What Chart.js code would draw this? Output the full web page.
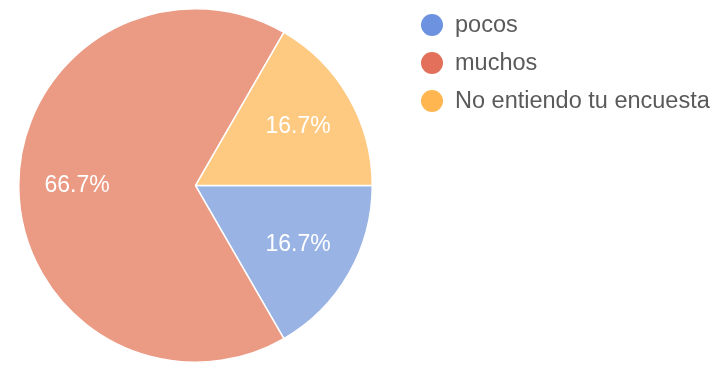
<!DOCTYPE html>
<html>
<head>
<meta charset="utf-8">
<script src="https://cdn.jsdelivr.net/npm/chart.js@4"></script>
<style>
  html, body { margin: 0; padding: 0; background: #fff; }
  #wrap { width: 715px; height: 371px; }
</style>
</head>
<body>
<div id="wrap"><canvas id="chart" width="715" height="371"></canvas></div>
<script>
const labels = ['pocos', 'muchos', 'No entiendo tu encuesta'];
const counts = [1, 4, 1];
const sliceColors = ['#98b3e4', '#eb9a84', '#fec981'];
const dotColors = ['#6d93e0', '#e2705a', '#ffb650'];

const FONT = '"Liberation Sans", Arial, sans-serif';

// percentage text inside each slice
const sliceLabels = {
    id: 'sliceLabels',
    afterDatasetsDraw(chart) {
        const ctx = chart.ctx;
        const meta = chart.getDatasetMeta(0);
        const total = counts.reduce((a, b) => a + b, 0);
        ctx.save();
        ctx.font = '23px ' + FONT;
        ctx.fillStyle = '#ffffff';
        ctx.textAlign = 'center';
        ctx.textBaseline = 'middle';
        meta.data.forEach((arc, i) => {
            const p = arc.getProps(['x', 'y', 'startAngle', 'endAngle', 'outerRadius'], true);
            const mid = (p.startAngle + p.endAngle) / 2;
            const r = p.outerRadius * 0.67;
            const txt = (counts[i] / total * 100).toFixed(1) + '%';
            ctx.fillText(txt, p.x + Math.cos(mid) * r, p.y + Math.sin(mid) * r);
        });
        ctx.restore();
    }
};

// legend on the right, circles + labels
const sideLegend = {
    id: 'sideLegend',
    afterDraw(chart) {
        const ctx = chart.ctx;
        ctx.save();
        ctx.font = '23.5px ' + FONT;
        ctx.textBaseline = 'middle';
        labels.forEach((lab, i) => {
            const y = 25 + i * 38;
            ctx.beginPath();
            ctx.arc(432, y, 11, 0, Math.PI * 2);
            ctx.fillStyle = dotColors[i];
            ctx.fill();
            ctx.fillStyle = '#5a5a5a';
            ctx.fillText(lab, 455, y + 1);
        });
        ctx.restore();
    }
};

const chart = new Chart(document.querySelector('#chart'), {
    type: 'pie',
    data: {
        labels: labels,
        datasets: [{
            data: counts,
            backgroundColor: sliceColors,
            borderColor: '#ffffff',
            borderWidth: 1.5
        }]
    },
    options: {
        responsive: false,
        animation: false,
        rotation: 90,
        layout: { padding: { top: 8, bottom: 8, left: 0, right: 324 } },
        plugins: {
            legend: { display: false },
            tooltip: { enabled: false }
        }
    },
    plugins: [sliceLabels, sideLegend]
});
</script>
</body>
</html>
